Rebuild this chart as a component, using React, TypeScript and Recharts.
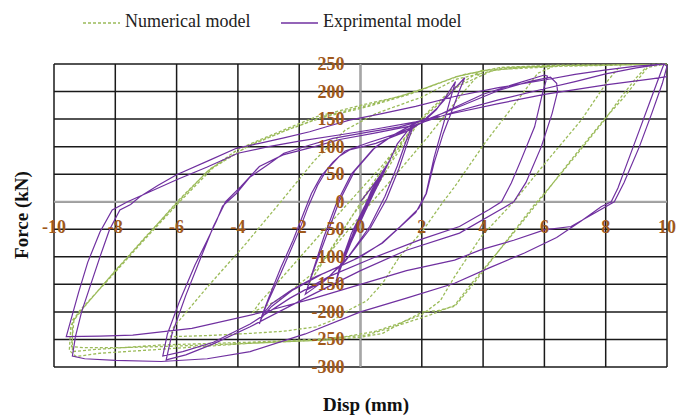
import React from "react";
import { LineChart, Line, XAxis, YAxis, CartesianGrid, ReferenceLine } from "recharts";

const W = 676;
const H = 418;
const PLOT_LEFT = 54;
const PLOT_TOP = 64;
const PLOT_W = 613;
const PLOT_H = 303;

const xTicks = [-10, -8, -6, -4, -2, 0, 2, 4, 6, 8, 10];
const yTicks = [-300, -250, -200, -150, -100, -50, 0, 50, 100, 150, 200, 250];

const expSmall = [
  [0, 0], [0.35, 25], [0.7, 52], [0.5, 28], [0.1, -12], [-0.3, -58], [-0.6, -105], [-0.4, -78],
  [-0.05, -35], [0.35, 15], [0.72, 55], [0.82, 63], [0.55, 30], [0.1, -20], [-0.35, -72],
  [-0.72, -130], [-0.5, -100], [-0.1, -45], [0.3, 8], [0.8, 60], [0.88, 68], [0.6, 35],
  [0.15, -18], [-0.4, -85], [-0.78, -140], [-0.55, -105], [-0.15, -50], [0.35, 20], [0.85, 66],
  [0.62, 40], [0.2, -8], [-0.3, -66], [-0.68, -118], [-0.8, -145], [-0.6, -112], [-0.25, -62],
  [0.2, 0], [0.6, 42], [0.92, 72], [0.7, 45], [0.25, -5], [-0.25, -60], [-0.62, -112],
  [-0.75, -135], [-0.48, -92], [-0.05, -30], [0.45, 28], [0.8, 58], [0.95, 75],
];

const expCycle2 = [
  [1.2, 105], [1.7, 140], [1.5, 112], [1.2, 65], [0.8, 10], [0.3, -45], [-0.4, -100], [-1.1, -140],
  [-1.6, -160], [-1.8, -168], [-1.55, -125], [-1.2, -65], [-0.8, -5], [-0.3, 50], [0.4, 95],
  [1.1, 122], [1.75, 142], [1.55, 110], [1.25, 60], [0.85, 5], [0.3, -50], [-0.5, -108],
  [-1.2, -145], [-1.75, -160], [-1.5, -120], [-1.1, -60], [-0.7, 0], [-0.2, 55], [0.5, 100],
  [1.2, 125], [1.7, 140],
];

const expCycle3 = [
  [2.1, 150], [2.5, 170], [2.9, 195], [3.4, 225], [3.25, 205], [2.95, 160], [2.7, 124], [2.4, 70],
  [2.15, 15], [1.9, -12], [1.3, -45], [0.7, -75], [0, -100], [-0.7, -118], [-1.45, -136],
  [-2.3, -162], [-2.9, -185], [-3.2, -205], [-3.3, -222], [-3.05, -185], [-2.6, -130], [-2.0, -52],
  [-1.7, -8], [-1.4, 30], [-1.1, 58], [-0.7, 82], [-0.36, 94], [0.5, 106], [1.6, 130], [2.1, 148],
  [2.47, 167], [2.8, 192], [3.1, 218], [2.95, 190], [2.7, 140], [2.4, 80], [2.14, 15], [1.8, -20],
  [0.72, -75], [-0.2, -105], [-1.2, -130], [-2.2, -160], [-2.9, -190], [-3.25, -212], [-3.0, -175],
  [-2.6, -120], [-2.2, -70], [-1.85, -20], [-1.6, 15], [-1.3, 45], [-0.9, 72], [-0.5, 92],
  [0.3, 108], [1.27, 125],
];

const expCycle6 = [
  [2.2, 148], [3.1, 172], [4.0, 195], [5.0, 213], [6.0, 230], [6.1, 228], [5.95, 200], [5.68, 136],
  [5.24, 76], [4.92, 34], [4.6, 0], [4.2, -14], [3.23, -45], [2.0, -68], [0.5, -100], [-1.0, -135],
  [-2.3, -175], [-3.6, -222], [-4.8, -255], [-5.8, -272], [-6.45, -280], [-6.3, -240], [-5.9, -180],
  [-5.4, -115], [-5.0, -70], [-4.7, -35], [-4.5, -8], [-4.05, 15], [-3.6, 45], [-3.0, 68],
  [-2.5, 88], [-1.7, 102], [-0.9, 115], [0.2, 126], [1.27, 136], [2.2, 150], [3.2, 172],
  [4.5, 202], [5.5, 218], [6.2, 226], [6.4, 215], [6.43, 200], [6.25, 160], [5.9, 100], [5.4, 35],
  [5.0, 0], [4.7, -10], [3.23, -57], [1.5, -88], [0, -125], [-1.8, -175], [-3.6, -227],
  [-4.8, -258], [-5.7, -278], [-6.34, -287], [-6.15, -240], [-5.7, -170], [-5.2, -100],
  [-4.8, -45], [-4.4, 0], [-3.9, 28], [-3.3, 64], [-2.53, 85], [-1.5, 100], [-0.68, 113],
  [0.5, 125], [1.7, 138], [3.0, 162],
];

const expCycle10 = [
  [4.5, 185], [6.0, 205], [7.0, 218], [8.0, 232], [9.0, 243], [9.9, 250], [9.8, 235], [9.5, 190],
  [9.1, 130], [8.7, 70], [8.4, 25], [8.18, 0], [7.85, -9], [7.2, -35], [6.4, -65], [5.35, -93],
  [4.2, -120], [3.07, -148], [1.5, -175], [0, -200], [-1.8, -240], [-3.6, -272], [-5.0, -285],
  [-6.5, -290], [-8.0, -288], [-9.0, -285], [-9.4, -280], [-9.3, -245], [-9.1, -200], [-8.8, -150],
  [-8.5, -100], [-8.19, -51], [-7.85, -15], [-7.5, -5], [-7.2, 9], [-6.6, 30], [-6.0, 49],
  [-4.9, 76], [-4.05, 97], [-3.3, 106], [-2.5, 116], [-1.66, 127], [-1.0, 138], [-0.36, 148],
  [0.7, 160], [1.8, 173], [3.07, 191], [4.5, 207], [6.0, 221], [7.0, 231], [7.96, 239],
  [9.0, 246], [9.9, 250], [10, 246], [9.85, 215], [9.5, 160], [9.1, 100], [8.6, 35], [8.28, 0],
  [7.6, -22], [6.87, -45], [6.0, -51], [5.0, -70], [3.94, -87], [3.07, -106], [1.5, -125],
  [0, -150], [-1.5, -175], [-3.3, -202], [-5.5, -230], [-7.43, -242], [-8.5, -244], [-9.6, -245],
  [-9.45, -215], [-9.2, -165], [-8.9, -110], [-8.5, -55], [-8.1, -15], [-7.6, 0], [-7.2, 10],
  [-6.0, 40], [-5.0, 63], [-4.0, 88], [-3.0, 100], [-2.0, 110], [-0.6, 122], [0.5, 132],
  [1.8, 145], [3.07, 161], [4.5, 178], [6.0, 195], [8.0, 212], [9.5, 223], [10, 227],
];

// Numerical model
const numSmall = [
  [0, 0], [0.9, 75], [1.7, 135], [0.9, 68], [0, -2], [-0.9, -80], [-1.7, -150], [-0.9, -82],
  [-0.2, -20],
];

const numCycle4 = [
  [0.4, 15], [1.06, 76], [2.03, 154], [3.0, 205], [4.0, 240], [3.3, 195], [2.2, 118], [1.2, 52],
  [0.3, -5], [-0.6, -65], [-1.6, -132], [-2.6, -176], [-3.5, -200], [-3.3, -184], [-2.2, -115],
  [-1.2, -52], [-0.36, 0], [0.7, 65], [1.5, 120], [2.2, 160], [3.2, 210], [4.3, 238], [5.3, 244],
  [6.3, 246],
];

const numCycle6 = [
  [5.78, 233], [5.0, 175], [4.05, 106], [3.07, 27], [2.7, 0], [2.0, -55], [1.27, -100],
  [0.72, -148], [0.2, -180], [-0.36, -196], [-0.9, -215], [-1.45, -227], [-2.5, -235],
  [-3.6, -239], [-5.0, -243], [-6.2, -245], [-6.1, -228], [-5.0, -155], [-3.8, -80], [-2.6, 0],
  [-1.5, 75], [-0.5, 130], [0.5, 160], [2.0, 190], [3.1, 222], [4.5, 240], [6.6, 246], [8.5, 248],
];

const numCycle8 = [
  [8.1, 222], [7.2, 148], [6.1, 75], [5.0, 0], [3.94, -63], [3.07, -136], [2.6, -180], [2.0, -205],
  [1.2, -222], [0.5, -235], [-0.5, -245], [-1.12, -251], [-2.5, -254], [-3.6, -257], [-5.0, -260],
  [-6.56, -263], [-8.0, -265], [-9.0, -265], [-9.43, -263], [-9.35, -215], [-9.0, -190],
  [-8.0, -125], [-7.0, -63], [-6.0, -3], [-5.0, 55], [-4.0, 95], [-3.3, 112], [-2.3, 135],
  [-1.45, 154], [0, 175], [1.27, 191], [2.2, 208], [3.12, 227], [4.0, 238], [5.0, 244],
  [7.0, 247], [9.4, 249],
];

const numCycle10 = [
  [9.0, 225], [8.5, 190], [7.96, 148], [7.0, 82], [6.0, 15], [5.68, -5], [4.5, -90], [3.6, -155],
  [3.07, -190], [2.5, -198], [2.03, -200], [1.5, -215], [0.72, -239], [0, -246], [-1.12, -251],
  [-3.6, -257], [-6.56, -268], [-8.5, -275], [-9.28, -281], [-9.5, -270], [-9.45, -225],
  [-9.2, -200], [-8.2, -140], [-7.1, -72], [-5.9, 0], [-4.8, 62], [-3.6, 103], [-2.5, 128],
  [-1.2, 155], [0.3, 176], [1.8, 200], [3.3, 230], [4.5, 243], [6.0, 247], [9.4, 249], [10, 250],
  [9.37, 244], [8.6, 190], [7.96, 150], [6.9, 78], [5.85, 3], [4.8, -70], [3.6, -150],
  [3.07, -188], [2.3, -205], [1.2, -225], [0.2, -242], [-1.5, -250], [-3.6, -255], [-6.5, -260],
  [-8.6, -268], [-9.4, -272], [-9.4, -215], [-9.1, -196], [-8.1, -132], [-7.0, -64], [-5.95, 2],
  [-4.9, 60], [-3.7, 100], [-2.4, 130], [-1.3, 152], [0.2, 172], [1.6, 195], [3.2, 228],
  [4.6, 244], [6.5, 248], [9.4, 249],
];

const toPoints = (list: number[][]) => list.map(([x, y]) => ({ x, y }));

const expData = toPoints([...expSmall, ...expCycle2, ...expCycle3, ...expCycle6, ...expCycle10]);
const numData = toPoints([...numSmall, ...numCycle4, ...numCycle6, ...numCycle8, ...numCycle10]);

const ZERO_X = PLOT_LEFT + PLOT_W / 2;
const ZERO_Y = PLOT_TOP + (PLOT_H * 250) / 550;
const serif = "'Liberation Serif', 'Times New Roman', serif";
const tickFont = {
  fontFamily: serif,
  fontWeight: 700,
  fontSize: 18,
  fill: "#A0591B",
};

// labels sit next to the zero lines, like the spreadsheet's axes crossing at the origin
const renderXTick = (props: any) => (
  <text key={props.index} x={props.x} y={ZERO_Y + 31} textAnchor="middle" {...tickFont}>
    {props.payload.value}
  </text>
);

const renderYTick = (props: any) => (
  <text key={props.index} x={ZERO_X - 16} y={props.y} dy={6} textAnchor="end" {...tickFont}>
    {props.payload.value}
  </text>
);

export default function App() {
  return (
    <div style={{ position: "absolute", left: 0, top: 0, width: W, height: H, background: "#fff" }}>
      <LineChart
        width={W}
        height={H}
        margin={{
          top: PLOT_TOP,
          right: W - PLOT_LEFT - PLOT_W,
          bottom: H - PLOT_TOP - PLOT_H - 1,
          left: PLOT_LEFT - 1,
        }}
      >
        <CartesianGrid stroke="#1a1a1a" strokeWidth={1.5} />
        <XAxis
          type="number"
          dataKey="x"
          domain={[-10, 10]}
          ticks={xTicks}
          interval={0}
          height={1}
          axisLine={false}
          tickLine={false}
          tick={renderXTick}
        />
        <YAxis
          type="number"
          dataKey="y"
          domain={[-300, 250]}
          ticks={yTicks}
          interval={0}
          width={1}
          axisLine={false}
          tickLine={false}
          tick={renderYTick}
        />
        <ReferenceLine x={0} stroke="#a6a6a6" strokeWidth={2} />
        <ReferenceLine y={0} stroke="#a6a6a6" strokeWidth={2} />
        <Line
          data={numData}
          dataKey="y"
          type="linear"
          stroke="#9BBB59"
          strokeWidth={1.3}
          strokeDasharray="3 2"
          dot={false}
          activeDot={false}
          isAnimationActive={false}
        />
        <Line
          data={expData}
          dataKey="y"
          type="linear"
          stroke="#7030A0"
          strokeWidth={1.2}
          dot={false}
          activeDot={false}
          isAnimationActive={false}
        />
      </LineChart>

      {/* legend */}
      <div style={{ position: "absolute", top: 10, left: 0, fontFamily: serif, fontSize: 18, color: "#222" }}>
        <svg width={W} height={26} style={{ position: "absolute", left: 0, top: 0 }}>
          <line x1={83} x2={120} y1={13} y2={13} stroke="#9BBB59" strokeWidth={1.3} strokeDasharray="3 2" />
          <line x1={281} x2={318} y1={13} y2={13} stroke="#7030A0" strokeWidth={1.3} />
        </svg>
        <span style={{ position: "absolute", left: 125, top: 1, whiteSpace: "nowrap" }}>Numerical model</span>
        <span style={{ position: "absolute", left: 323, top: 1, whiteSpace: "nowrap" }}>Exprimental model</span>
      </div>

      {/* axis titles */}
      <div
        style={{
          position: "absolute",
          left: 22,
          top: 215,
          transform: "translate(-50%, -50%) rotate(-90deg)",
          fontFamily: serif,
          fontWeight: 700,
          fontSize: 19,
          whiteSpace: "nowrap",
          color: "#111",
        }}
      >
        Force (kN)
      </div>
      <div
        style={{
          position: "absolute",
          left: 366,
          top: 405,
          transform: "translate(-50%, -50%)",
          fontFamily: serif,
          fontWeight: 700,
          fontSize: 19,
          whiteSpace: "nowrap",
          color: "#111",
        }}
      >
        Disp (mm)
      </div>
    </div>
  );
}
